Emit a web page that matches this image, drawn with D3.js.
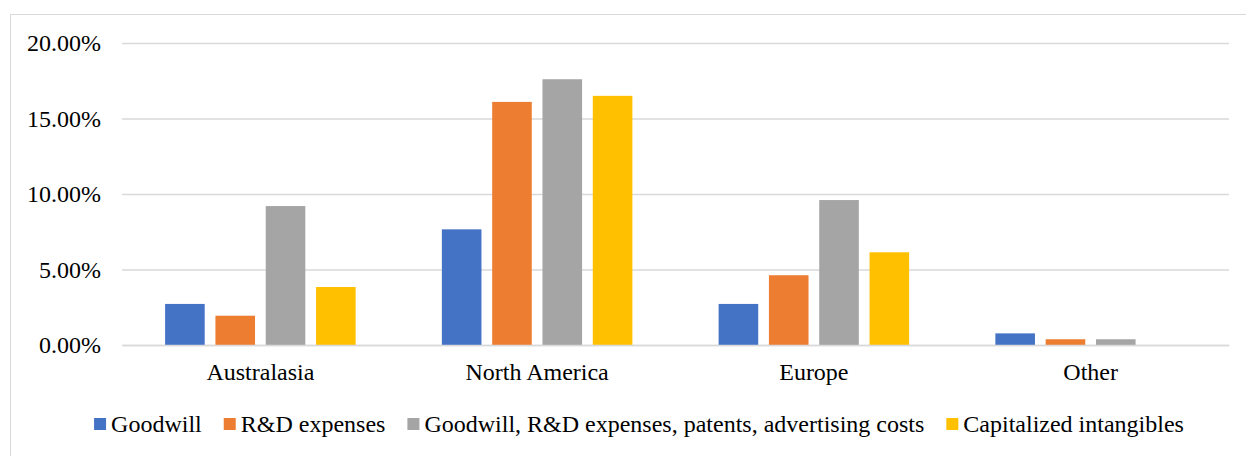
<!DOCTYPE html>
<html lang="en">
<head>
<meta charset="utf-8">
<title>Intangibles by region</title>
<script src="https://d3js.org/d3.v7.min.js"></script>
<style>
  body { margin: 0; background: #fff; }
  text { font-family: "Liberation Serif", "Times New Roman", serif; fill: #000; }
</style>
</head>
<body>
<svg id="chart" width="1246" height="456"></svg>
<script>
// chart data
var regions = ["Australasia", "North America", "Europe", "Other"];
var seriesNames = ["Goodwill", "R&D expenses", "Goodwill, R&D expenses, patents, advertising costs", "Capitalized intangibles"];
var goodwill = [0.0272, 0.0766, 0.0272, 0.0077];
var rdExpenses = [0.0194, 0.1610, 0.0462, 0.0038];
var combined = [0.0920, 0.1760, 0.0960, 0.0038];
var capitalized = [0.0384, 0.1650, 0.0614, 0];
var yTicks = [0, 0.05, 0.10, 0.15, 0.20];
var colors = ["#4472C4", "#ED7D31", "#A5A5A5", "#FFC000"];

var values = [goodwill, rdExpenses, combined, capitalized];

var svg = d3.select("#chart");
var plotLeft = 122, plotRight = 1229, plotTop = 43, plotBottom = 345;
var fontSize = 24;

// outer frame of the chart area
svg.append("rect")
  .attr("x", 10.5).attr("y", 14.5)
  .attr("width", 1260).attr("height", 460)
  .attr("fill", "none").attr("stroke", "#d9d9d9").attr("stroke-width", 1);

var y = d3.scaleLinear().domain([0, 0.20]).range([plotBottom, plotTop]);
var x0 = d3.scaleBand().domain(regions).range([plotLeft, plotRight]);
var x1 = d3.scaleBand().domain(d3.range(seriesNames.length))
  .range([0, x0.bandwidth()]).paddingInner(0.213).paddingOuter(0.857);

// gridlines + tick labels
var yAxis = svg.append("g")
  .attr("transform", "translate(" + plotLeft + ",0)")
  .call(d3.axisLeft(y).tickValues(yTicks).tickSize(-(plotRight - plotLeft)).tickPadding(21)
    .tickFormat(d3.format(".2%")));
yAxis.select(".domain").remove();
yAxis.selectAll("line").attr("stroke", "#d9d9d9").attr("stroke-width", 1.3);
yAxis.selectAll("text")
  .style("font-size", fontSize + "px")
  .attr("fill", "#000");

// bars
var groups = svg.append("g").selectAll("g")
  .data(regions)
  .enter().append("g")
  .attr("transform", function(d) { return "translate(" + x0(d) + ",0)"; });

groups.selectAll("rect")
  .data(function(d, i) { return values.map(function(v, s) { return {s: s, v: v[i]}; }); })
  .enter().append("rect")
  .attr("x", function(d) { return x1(d.s); })
  .attr("y", function(d) { return y(d.v); })
  .attr("width", x1.bandwidth())
  .attr("height", function(d) { return plotBottom - y(d.v); })
  .attr("fill", function(d) { return colors[d.s]; });

// category labels
var xAxis = svg.append("g")
  .attr("transform", "translate(0," + plotBottom + ")")
  .call(d3.axisBottom(x0).tickSize(0).tickPadding(0));
xAxis.select(".domain").attr("stroke", "#d9d9d9").attr("stroke-width", 1.3);
xAxis.selectAll("text")
  .style("font-size", fontSize + "px")
  .attr("fill", "#000")
  .attr("y", 35).attr("dy", 0);

// legend, centred under the chart
var legend = svg.append("g");
var items = legend.selectAll("g")
  .data(seriesNames)
  .enter().append("g");
items.append("rect")
  .attr("width", 12).attr("height", 12)
  .attr("y", -14)
  .attr("fill", function(d, i) { return colors[i]; });
items.append("text")
  .attr("x", 17)
  .style("font-size", fontSize + "px")
  .text(function(d) { return d; });

var gap = 22;
var pos = 0;
items.each(function() {
  var g = d3.select(this);
  g.attr("transform", "translate(" + pos + ",0)");
  pos += 17 + g.select("text").node().getComputedTextLength() + gap;
});
var legendWidth = pos - gap;
legend.attr("transform", "translate(" + (639 - legendWidth / 2) + ",432)");
</script>
</body>
</html>
